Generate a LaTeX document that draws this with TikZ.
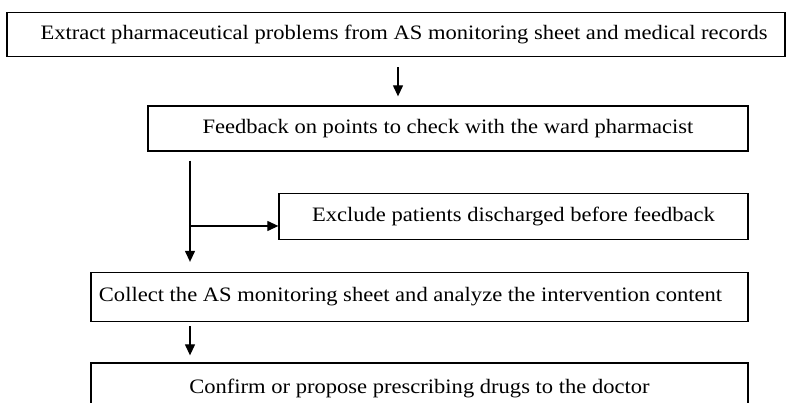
\documentclass[tikz,border=0pt]{standalone}
\usepackage{fontspec}
\setmainfont[FakeStretch=1.1]{Liberation Serif}
\usepackage{tikz}
\usetikzlibrary{arrows.meta, positioning, calc}

\begin{document}
\begin{tikzpicture}[
  x=1pt, y=-1pt,
  box/.style={draw, line width=1.3pt, inner sep=0pt, align=center,
              font=\fontsize{20.5}{23}\selectfont},
  arr/.style={-{Triangle[length=11pt, width=10pt]}, line width=1.2pt},
]
  \useasboundingbox (0,0) rectangle (788,403);
  \clip (0,0) rectangle (788,403);

  \node[box, minimum width=778pt, minimum height=44.5pt] (extract) at (396,34.5)
    {\hspace*{16pt}Extract pharmaceutical problems from AS monitoring sheet and medical records};
  \node[box, minimum width=600pt, minimum height=45pt] (feedback) at (448,128.5)
    {Feedback on points to check with the ward pharmacist};
  \node[box, minimum width=469pt, minimum height=46pt] (exclude) at (513.5,216.5)
    {Exclude patients discharged before feedback};
  \node[box, minimum width=657pt, minimum height=49pt] (collect) at (419.5,297)
    {Collect the AS monitoring sheet and analyze the intervention content\hspace*{18pt}};
  \node[box, minimum width=657pt, minimum height=50pt] (confirm) at (419.5,388)
    {Confirm or propose prescribing drugs to the doctor};

  \coordinate (mid) at (398,0);
  \coordinate (lft) at (190,0);
  \coordinate (split) at (190,226);

  \draw[arr, shorten <=10pt, shorten >=9pt] (extract.south -| mid) -- (feedback.north -| mid);
  \draw[arr, shorten <=9pt, shorten >=10pt] (feedback.south -| lft) -- (collect.north -| lft);
  \draw[arr] (split) -- (split -| exclude.west);
  \draw[arr, shorten <=4pt, shorten >=7pt] (collect.south -| lft) -- (confirm.north -| lft);
\end{tikzpicture}
\end{document}
